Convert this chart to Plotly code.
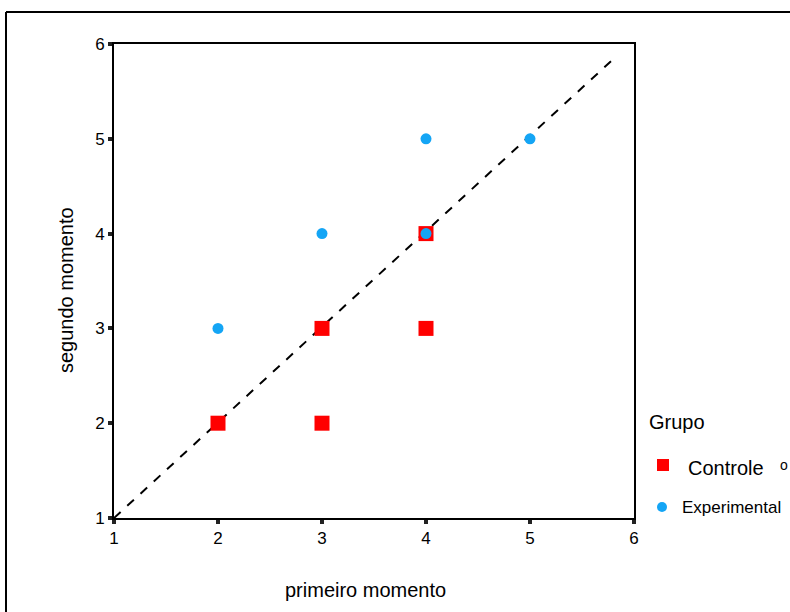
import plotly.graph_objects as go

# Data
controle_x = [2, 3, 3, 4, 4]
controle_y = [2, 3, 2, 3, 4]
experimental_x = [2, 3, 4, 5, 4]
experimental_y = [3, 4, 5, 5, 4]
ref_line_x = [1, 5.82]
ref_line_y = [1, 5.86]
tick_vals = [1, 2, 3, 4, 5, 6]
tick_text = ["1", "2", "3", "4", "5", "6"]

RED = "#ff0000"
BLUE = "#14a5f5"
FONT = "Liberation Sans, Arial, sans-serif"

W, H = 790, 612
# target plot area in screenshot pixels: x 114..634, y 44..518
L, T = 114, 44
R = W - 634
B = H - 518
pw, ph = W - L - R, H - T - B

def px_x(x):
    return (x - L) / pw

def px_y(y):
    return (H - B - y) / ph

fig = go.Figure()
fig.add_trace(go.Scatter(x=ref_line_x, y=ref_line_y, mode="lines",
                         line=dict(color="black", width=2, dash="dash"),
                         showlegend=False, hoverinfo="skip"))
fig.add_trace(go.Scatter(x=controle_x, y=controle_y, mode="markers", name="Controle",
                         marker=dict(symbol="square", size=15, color=RED),
                         showlegend=False))
fig.add_trace(go.Scatter(x=experimental_x, y=experimental_y, mode="markers", name="Experimental",
                         marker=dict(symbol="circle", size=11, color=BLUE),
                         showlegend=False))

axis_common = dict(
    range=[1, 6], tickvals=tick_vals, ticktext=tick_text,
    showgrid=False, zeroline=False, showline=True, linecolor="black", linewidth=2,
    mirror=True, ticks="outside", ticklen=4, tickwidth=4, tickcolor="#222",
    tickfont=dict(family=FONT, size=17, color="black"),
)
fig.update_xaxes(**axis_common)
fig.update_yaxes(**axis_common)

shapes = [
    # outer frame (top and left lines)
    dict(type="line", xref="paper", yref="paper", x0=px_x(6), y0=px_y(12), x1=px_x(800), y1=px_y(12),
         line=dict(color="black", width=2)),
    dict(type="line", xref="paper", yref="paper", x0=px_x(6), y0=px_y(12), x1=px_x(6), y1=px_y(620),
         line=dict(color="black", width=2)),
    # legend symbols
    dict(type="rect", xref="paper", yref="paper", x0=px_x(657), x1=px_x(669), y0=px_y(459), y1=px_y(471),
         fillcolor=RED, line=dict(width=0)),
    dict(type="circle", xref="paper", yref="paper", x0=px_x(657), x1=px_x(667), y0=px_y(502), y1=px_y(512),
         fillcolor=BLUE, line=dict(width=0)),
]

annotations = [
    # axis titles
    dict(text="primeiro momento", xref="paper", yref="paper", x=px_x(365), y=px_y(590),
         xanchor="center", yanchor="middle", showarrow=False,
         font=dict(family=FONT, size=20, color="black")),
    dict(text="segundo momento", xref="paper", yref="paper", x=px_x(66), y=px_y(290),
         xanchor="center", yanchor="middle", showarrow=False, textangle=-90,
         font=dict(family=FONT, size=20, color="black")),
    # legend
    dict(text="Grupo", xref="paper", yref="paper", x=px_x(647), y=px_y(422), xanchor="left", yanchor="middle",
         showarrow=False, font=dict(family=FONT, size=20, color="black")),
    dict(text="Controle", xref="paper", yref="paper", x=px_x(686), y=px_y(468), xanchor="left", yanchor="middle",
         showarrow=False, font=dict(family=FONT, size=20, color="black")),
    dict(text="o", xref="paper", yref="paper", x=px_x(778), y=px_y(465), xanchor="left", yanchor="middle",
         showarrow=False, font=dict(family=FONT, size=14, color="black")),
    dict(text="Experimental", xref="paper", yref="paper", x=px_x(680), y=px_y(507), xanchor="left", yanchor="middle",
         showarrow=False, font=dict(family=FONT, size=17, color="black")),
]

fig.update_layout(
    width=W, height=H,
    margin=dict(l=L, r=R, t=T, b=B, pad=0),
    paper_bgcolor="white", plot_bgcolor="white",
    shapes=shapes, annotations=annotations,
    showlegend=False,
    font=dict(family=FONT),
)

fig.write_html("out.html", config={"displayModeBar": False},
               post_script="document.body.style.margin='0';document.body.style.overflow='hidden';")
